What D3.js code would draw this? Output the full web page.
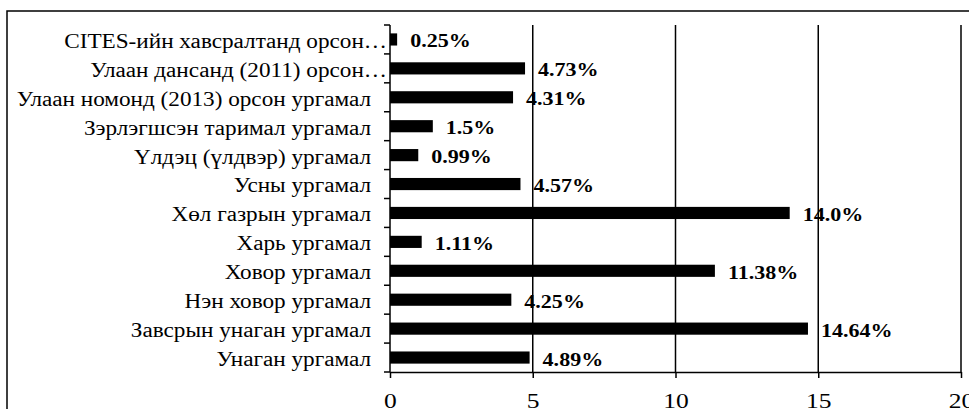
<!DOCTYPE html>
<html><head><meta charset="utf-8">
<script src="https://cdn.jsdelivr.net/npm/d3@7"></script>
<style>
html,body{margin:0;padding:0;background:#fff;overflow:hidden}
svg{display:block}
</style></head>
<body>
<script>
const categories = [
  "CITES-ийн хавсралтанд орсон…",
  "Улаан дансанд (2011) орсон…",
  "Улаан номонд (2013) орсон ургамал",
  "Зэрлэгшсэн таримал ургамал",
  "Үлдэц (үлдвэр) ургамал",
  "Усны ургамал",
  "Хөл газрын ургамал",
  "Харь ургамал",
  "Ховор ургамал",
  "Нэн ховор ургамал",
  "Завсрын унаган ургамал",
  "Унаган ургамал"
];
const values = [0.25, 4.73, 4.31, 1.5, 0.99, 4.57, 14.0, 1.11, 11.38, 4.25, 14.64, 4.89];
const valueLabels = ["0.25%", "4.73%", "4.31%", "1.5%", "0.99%", "4.57%", "14.0%", "1.11%", "11.38%", "4.25%", "14.64%", "4.89%"];
const xTicks = [0, 5, 10, 15, 20];

(function () {
const FONT = "Liberation Serif, Tinos, Times New Roman, DejaVu Serif, serif";
const SX = 1.16; // horizontal stretch of the reference text
const W = 969, H = 409;
const svg = d3.select("body").append("svg").attr("width", W).attr("height", H)
  .attr("font-family", FONT);

// outer chart frame
svg.append("rect").attr("x", 7).attr("y", 11).attr("width", 980).attr("height", 420)
  .attr("fill", "none").attr("stroke", "#000").attr("stroke-width", 1.5);

const pL = 390, pR = 961, pT = 25, pB = 372;
const x = d3.scaleLinear().domain([0, 20]).range([pL, pR]);
const y = d3.scaleBand().domain(categories).range([pT, pB]).paddingInner(0.58).paddingOuter(0.29);
const band = (pB - pT) / categories.length;

// gridlines
svg.append("g").selectAll("line").data(xTicks.filter(d => d > 0)).join("line")
  .attr("x1", d => x(d)).attr("x2", d => x(d)).attr("y1", pT).attr("y2", pB)
  .attr("stroke", "#000").attr("stroke-width", 1.5);

// x axis
const xAxis = svg.append("g").attr("transform", `translate(0,${pB})`)
  .call(d3.axisBottom(x).tickValues(xTicks).tickSize(6).tickSizeOuter(0).tickPadding(14));
xAxis.attr("font-family", FONT).attr("font-size", 22);
xAxis.select(".domain").attr("stroke", "#000").attr("stroke-width", 1.5);
xAxis.selectAll(".tick line").attr("stroke", "#000").attr("stroke-width", 1.5);
xAxis.selectAll("text").attr("fill", "#000").attr("transform", `scale(${SX},1)`);

// y axis line
svg.append("line").attr("x1", pL).attr("x2", pL).attr("y1", pT).attr("y2", pB)
  .attr("stroke", "#000").attr("stroke-width", 1.5);
// y ticks at band boundaries
const boundaries = d3.range(categories.length + 1).map(i => pT + i * band);
svg.append("g").selectAll("line").data(boundaries).join("line")
  .attr("x1", pL - 6).attr("x2", pL).attr("y1", d => d).attr("y2", d => d)
  .attr("stroke", "#000").attr("stroke-width", 1.5);

// category labels
svg.append("g").attr("font-size", 20).selectAll("text").data(categories).join("text")
  .attr("transform", d => `translate(${d.endsWith("…") ? 387 : 371},${y(d) + y.bandwidth() / 2}) scale(${SX},1)`)
  .attr("dy", "0.42em")
  .attr("text-anchor", "end").attr("fill", "#000").text(d => d);

// bars
svg.append("g").selectAll("rect").data(values).join("rect")
  .attr("x", x(0)).attr("y", (d, i) => y(categories[i]))
  .attr("width", d => x(d) - x(0)).attr("height", y.bandwidth()).attr("fill", "#000");

// value labels
svg.append("g").attr("font-size", 19).attr("font-weight", "bold").selectAll("text").data(values).join("text")
  .attr("transform", (d, i) => `translate(${x(d) + 13},${y(categories[i]) + y.bandwidth() / 2}) scale(${SX},1)`)
  .attr("dy", "0.42em")
  .attr("fill", "#000").text((d, i) => valueLabels[i]);
})();
</script>
</body></html>
